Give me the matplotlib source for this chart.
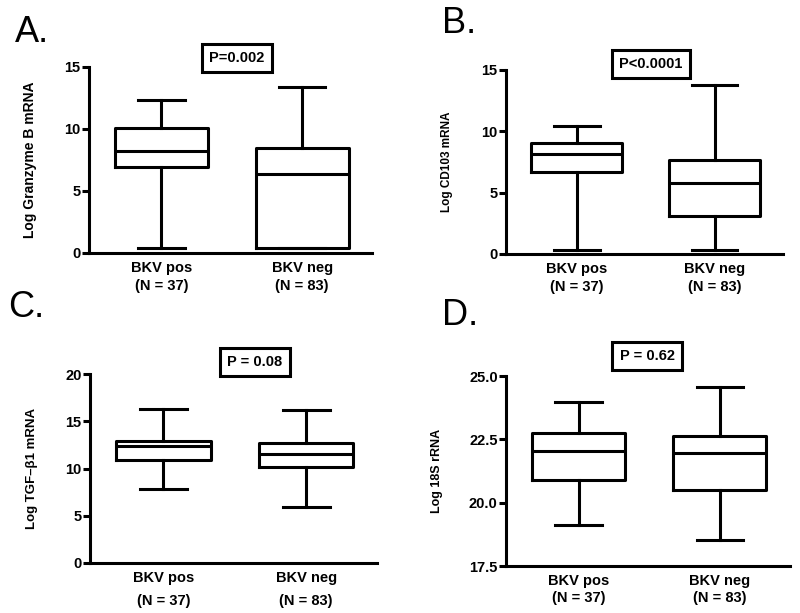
import matplotlib
matplotlib.use("Agg")
import matplotlib.pyplot as plt

plt.rcParams['font.family'] = ['Liberation Sans', 'DejaVu Sans']

groups = ["BKV pos\n(N = 37)", "BKV neg\n(N = 83)"]

# [min, q1, median, q3, max] for pos and neg
granzyme_pos = [0.4, 6.94, 8.23, 10.08, 12.34]
granzyme_neg = [0.4, 0.4, 6.37, 8.47, 13.39]
cd103_pos = [0.33, 6.71, 8.18, 9.07, 10.46]
cd103_neg = [0.33, 3.10, 5.76, 7.64, 13.78]
tgf_pos = [7.85, 10.85, 12.33, 12.92, 16.30]
tgf_neg = [5.88, 10.14, 11.52, 12.68, 16.23]
rrna_pos = [19.11, 20.89, 22.05, 22.76, 23.97]
rrna_neg = [18.53, 20.50, 21.98, 22.63, 24.58]

ylabels = ["Log Granzyme B mRNA", "Log CD103 mRNA", "Log TGF\u2013\u03b21 mRNA", "Log 18S rRNA"]
pvals = ["P=0.002", "P<0.0001", "P = 0.08", "P = 0.62"]
letters = ["A.", "B.", "C.", "D."]
yticks = [[0, 5, 10, 15], [0, 5, 10, 15], [0, 5, 10, 15, 20], [17.5, 20.0, 22.5, 25.0]]
yticklabels = [["0", "5", "10", "15"], ["0", "5", "10", "15"], ["0", "5", "10", "15", "20"],
               ["17.5", "20.0", "22.5", "25.0"]]

W, H = 800, 613
fig = plt.figure(figsize=(8, 6.13), dpi=100)

def fr(x0, y0, x1, y1):
    return [x0 / W, 1 - y1 / H, (x1 - x0) / W, (y1 - y0) / H]

panels = [
    dict(rect=fr(89, 67, 372, 253), data=(granzyme_pos, granzyme_neg), ylim=(0, 15),
         letter=(15, 42), pbox=(237, 58), ylx=37, ylfs=10, lsp=1.3, pfs=10.5),
    dict(rect=fr(506, 70, 783, 254), data=(cd103_pos, cd103_neg), ylim=(0, 15),
         letter=(442, 33), pbox=(651, 64), ylx=453, ylfs=8.5, lsp=1.3, pfs=10.5),
    dict(rect=fr(90, 374, 377, 563), data=(tgf_pos, tgf_neg), ylim=(0, 20),
         letter=(8, 317), pbox=(255, 362), ylx=38, ylfs=9.5, lsp=1.75, pfs=10.5),
    dict(rect=fr(506, 376, 790, 566), data=(rrna_pos, rrna_neg), ylim=(17.5, 25),
         letter=(442, 325), pbox=(647, 356), ylx=443, ylfs=9, lsp=1.25, pfs=10.5),
]

LW = 2.2
for i, p in enumerate(panels):
    ax = fig.add_axes(p["rect"])
    stats = []
    for lab, d in zip(groups, p["data"]):
        stats.append(dict(label=lab, whislo=d[0], q1=d[1], med=d[2], q3=d[3], whishi=d[4], fliers=[]))
    ax.bxp(stats, positions=[0, 1], widths=0.66, showfliers=False,
           boxprops=dict(color='black', linewidth=LW),
           whiskerprops=dict(color='black', linewidth=LW),
           capprops=dict(color='black', linewidth=LW),
           medianprops=dict(color='black', linewidth=LW))
    ax.set_xlim(-0.515, 1.497)
    ax.set_ylim(*p["ylim"])
    ax.set_yticks(yticks[i])
    ax.set_yticklabels(yticklabels[i], fontsize=10.5, fontweight='bold')
    ax.set_xticks([0, 1])
    ax.set_xticklabels(groups, fontsize=10.5, fontweight='bold', linespacing=p["lsp"])
    ax.tick_params(axis='x', length=0, pad=6)
    ax.tick_params(axis='y', length=5, width=LW, direction='out', pad=1)
    for s in ['top', 'right']:
        ax.spines[s].set_visible(False)
    for s in ['left', 'bottom']:
        ax.spines[s].set_linewidth(LW)
    ax.set_ylabel(ylabels[i], fontsize=p["ylfs"], fontweight='bold')
    bbox = ax.get_position()
    ax.yaxis.set_label_coords(p["ylx"] / W, bbox.y0 + bbox.height / 2, transform=fig.transFigure)
    fig.text(p["letter"][0] / W, 1 - p["letter"][1] / H, letters[i], fontsize=26,
             ha='left', va='baseline')
    fig.text(p["pbox"][0] / W, 1 - p["pbox"][1] / H, pvals[i], fontsize=p["pfs"], fontweight='bold',
             ha='center', va='center',
             bbox=dict(boxstyle='square,pad=0.5', facecolor='white', edgecolor='black', linewidth=LW))

fig.savefig("out.png", dpi=100)
